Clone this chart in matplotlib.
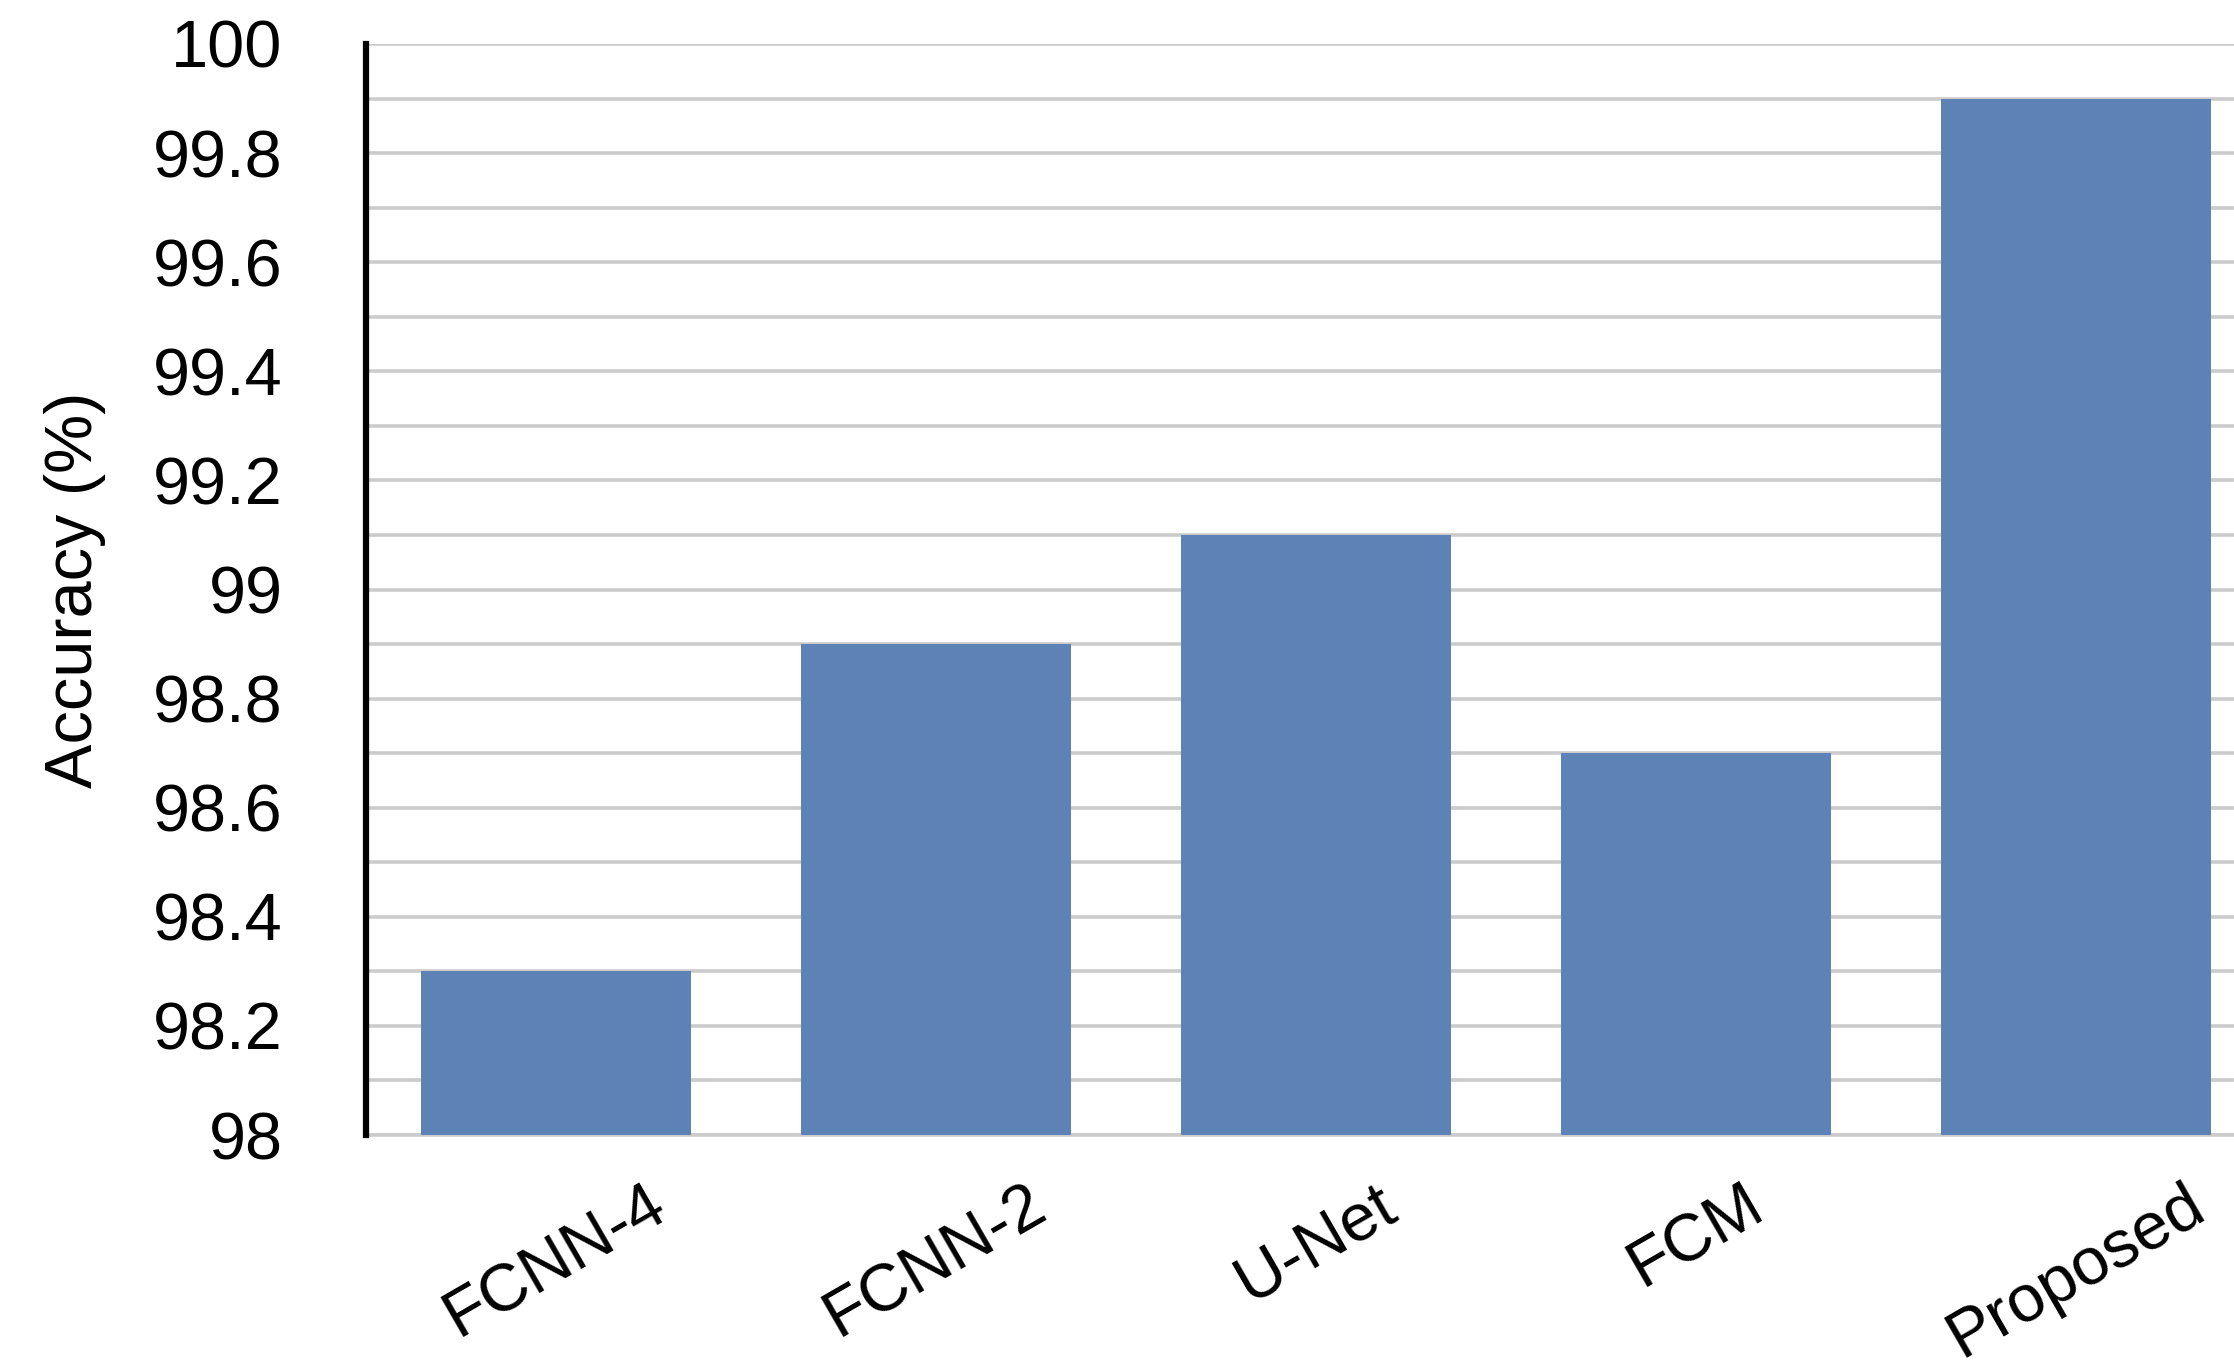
import numpy as np
import matplotlib
matplotlib.use("Agg")
import matplotlib.pyplot as plt

methods = ["FCNN-4", "FCNN-2", "U-Net", "FCM", "Proposed"]
accuracy = [98.3, 98.9, 99.1, 98.7, 99.9]
major_ticks = [98, 98.2, 98.4, 98.6, 98.8, 99, 99.2, 99.4, 99.6, 99.8, 100]
tick_labels = ["98", "98.2", "98.4", "98.6", "98.8", "99", "99.2", "99.4", "99.6", "99.8", "100"]
minor_ticks = [98.1, 98.3, 98.5, 98.7, 98.9, 99.1, 99.3, 99.5, 99.7, 99.9]

plt.rcParams["font.family"] = ["Liberation Sans", "DejaVu Sans"]

fig = plt.figure(figsize=(22.34, 13.61), dpi=100)
ax = fig.add_axes([366 / 2234, 226 / 1361, 1900 / 2234, 1091 / 1361])

x = np.arange(len(methods))
ax.bar(x, accuracy, width=0.71, color="#5d83b6", zorder=3)

ax.set_xlim(-0.5, len(methods) - 0.5)
ax.set_ylim(98, 100)
ax.set_yticks(major_ticks)
ax.set_yticklabels(tick_labels, fontsize=48)
ax.set_yticks(minor_ticks, minor=True)
ax.grid(axis="y", which="both", color="#cbcbcb", linewidth=2.6, zorder=0)

ax.set_xticks(x)
ax.set_xticklabels(methods, fontsize=48, rotation=30, ha="center", va="top")
ax.tick_params(axis="x", length=0, pad=28)
ax.tick_params(axis="y", which="both", length=0, pad=60)

for s in ["top", "right"]:
    ax.spines[s].set_visible(False)
ax.spines["bottom"].set_color("#cbcbcb")
ax.spines["bottom"].set_linewidth(2.6)
ax.spines["left"].set_color("black")
ax.spines["left"].set_linewidth(4.5)
ax.spines["left"].set_zorder(4)

ax.set_ylabel("Accuracy (%)", fontsize=48)
ax.yaxis.set_label_coords(-0.137, 0.5)

fig.savefig("out.png", dpi=100)
